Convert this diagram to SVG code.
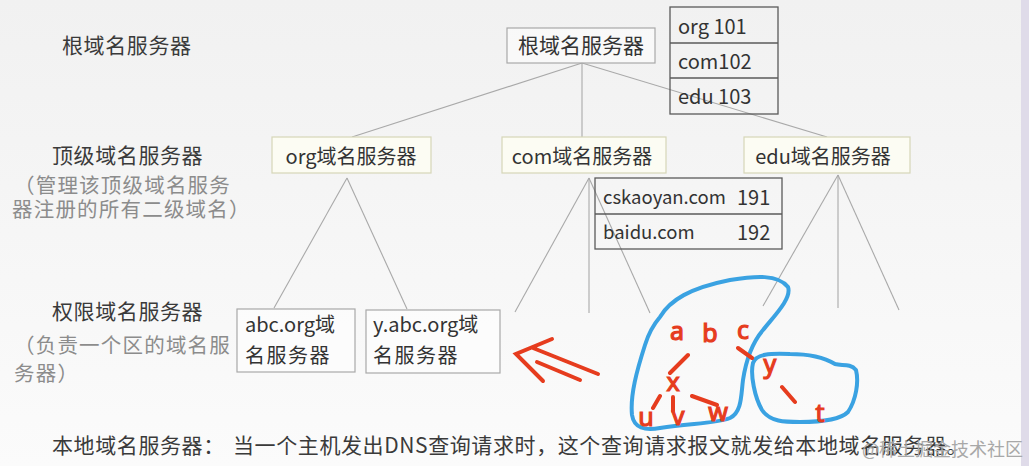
<svg xmlns="http://www.w3.org/2000/svg" width="1029" height="466" viewBox="0 0 1029 466">
<defs>
<linearGradient id="bg" x1="0" y1="0" x2="0" y2="1">
<stop offset="0" stop-color="#f1f1f1"/>
<stop offset="1" stop-color="#fbfbfb"/>
</linearGradient>
<style>
text{font-family:"Noto Sans CJK SC","Noto Sans",sans-serif;dominant-baseline:central}
.lbl{font-size:21px;fill:#3a3a3a;letter-spacing:0.6px}
.sub{font-size:20.5px;fill:#8c8c8c;letter-spacing:1.2px}
.bx{fill:#ffffff;fill-opacity:0.5;stroke:#a8a8a8;stroke-width:1.2}
.tl{fill:#fcfcf3;stroke:#d6d6b8;stroke-width:1.2}
.tb{fill:none;stroke:#5a5a5a;stroke-width:1.3}
.bt{fill:#333;font-size:21px}
.bt2{fill:#333;font-size:20px}
.tt{fill:#333;font-size:20px}
.cell{fill:#333;font-size:20px}
.con line{stroke:#a9a9a9;stroke-width:1.1}
.red{fill:#e63c1e;stroke:#e63c1e;stroke-width:1.2;font-family:"Noto Sans","DejaVu Sans",sans-serif;font-size:25px;dominant-baseline:alphabetic;text-anchor:middle}
.rs{stroke:#e63c1e;stroke-width:4;stroke-linecap:round;fill:none}
.bs{stroke:#3aa2e2;stroke-width:4;fill:none;stroke-linejoin:round}
</style>
</defs>
<rect width="1029" height="466" fill="url(#bg)"/>
<rect x="1021" y="0" width="8" height="466" fill="#dfdbe9"/>

<g id="left-labels">
<text class="lbl" x="62" y="44">根域名服务器</text>
<text class="lbl" x="52" y="154">顶级域名服务器</text>
<text class="sub" x="14" y="184">（管理该顶级域名服务</text>
<text class="sub" x="12" y="208">器注册的所有二级域名）</text>
<text class="lbl" x="52" y="310">权限域名服务器</text>
<text class="sub" x="14" y="344">（负责一个区的域名服</text>
<text class="sub" x="14" y="372">务器）</text>
</g>

<g id="connectors" class="con">
<line x1="582" y1="63" x2="352" y2="137"/>
<line x1="582" y1="63" x2="582" y2="137"/>
<line x1="582" y1="63" x2="827" y2="137"/>
<line x1="347" y1="178" x2="274" y2="308"/>
<line x1="347" y1="178" x2="407" y2="309"/>
<line x1="589" y1="178" x2="515" y2="312"/>
<line x1="589" y1="178" x2="589" y2="313"/>
<line x1="589" y1="178" x2="650" y2="313"/>
<line x1="838" y1="175" x2="763" y2="306"/>
<line x1="838" y1="175" x2="838" y2="308"/>
<line x1="838" y1="175" x2="899" y2="310"/>
</g>

<g id="root">
<rect class="bx" x="507" y="28" width="148" height="35"/>
<text class="bt" x="581" y="44" text-anchor="middle">根域名服务器</text>
</g>

<g id="root-table">
<rect class="tb" x="670" y="7" width="108" height="107"/>
<line class="tb" x1="670" y1="43" x2="778" y2="43"/>
<line class="tb" x1="670" y1="78" x2="778" y2="78"/>
<text class="cell" x="678" y="25">org 101</text>
<text class="cell" x="678" y="60">com102</text>
<text class="cell" x="678" y="95">edu 103</text>
</g>

<g id="org">
<rect class="tl" x="272" y="137" width="159" height="36"/>
<text class="tt" x="351" y="155" text-anchor="middle">org域名服务器</text>
</g>
<g id="com">
<rect class="tl" x="502" y="137" width="164" height="36"/>
<text class="tt" x="582" y="155" text-anchor="middle">com域名服务器</text>
</g>
<g id="edu">
<rect class="tl" x="744" y="137" width="166" height="36"/>
<text class="tt" x="823" y="155" text-anchor="middle">edu域名服务器</text>
</g>

<g id="com-table">
<rect class="tb" x="595" y="178" width="187" height="71"/>
<line class="tb" x1="595" y1="214" x2="782" y2="214"/>
<text class="cell" x="603" y="196" style="font-size:18.5px">cskaoyan.com</text>
<text class="cell" x="737" y="196">191</text>
<text class="cell" x="603" y="231" style="font-size:18.5px">baidu.com</text>
<text class="cell" x="737" y="231">192</text>
</g>

<g id="abc">
<rect class="bx" x="237" y="309" width="118" height="63"/>
<text class="bt2" x="245" y="323">abc.org域</text>
<text class="bt2" x="245" y="354" style="letter-spacing:1.5px">名服务器</text>
</g>
<g id="yabc">
<rect class="bx" x="366" y="310" width="134" height="63"/>
<text class="bt2" x="373" y="323">y.abc.org域</text>
<text class="bt2" x="373" y="354" style="letter-spacing:1.5px">名服务器</text>
</g>

<g id="bottom-text">
<text class="lbl" x="52" y="444">本地域名服务器：</text>
<text class="lbl" x="233" y="444">当一个主机发出DNS查询请求时，这个查询请求报文就发给本地域名服务器。</text>
</g>

<g id="annotation">
<path class="bs" d="M660,317 C670,300 690,288 730,280 C755,276 778,274 788,287 C792,298 775,315 763,330 C752,343 746,360 743,380 C741,395 742,412 730,418 C715,424 690,423 660,428 C645,431 634,428 632,415 C630,395 637,370 645,345 C649,332 654,324 660,317 Z"/>
<path class="bs" d="M753,363 C756,354 770,353 790,354 C810,354 825,358 835,364 C842,366 850,363 856,370 C859,382 856,400 848,412 C840,420 820,422 800,422 C785,422 770,422 762,410 C755,398 750,375 753,363 Z"/>
<path class="rs" d="M552,339 L516,354 L543,381 M533,348 L598,374 M537,362 L580,380"/>
<path class="rs" d="M738,348 L752,358 M688,355 L670,373 M660,396 L653,408 M673,397 L673,411 M692,396 L717,405 M782,387 L795,402"/>
<text class="red" x="677" y="340">a</text>
<text class="red" x="710" y="342">b</text>
<text class="red" x="743" y="339">c</text>
<text class="red" x="770" y="373">y</text>
<text class="red" x="673" y="391">x</text>
<text class="red" x="646" y="426">u</text>
<text class="red" x="678" y="425">v</text>
<text class="red" x="718" y="421">w</text>
<text class="red" x="820" y="422">t</text>
</g>

<text x="862" y="448" style="font-size:18px;fill:#a8a8a8">@稀土掘金技术社区</text>
</svg>
